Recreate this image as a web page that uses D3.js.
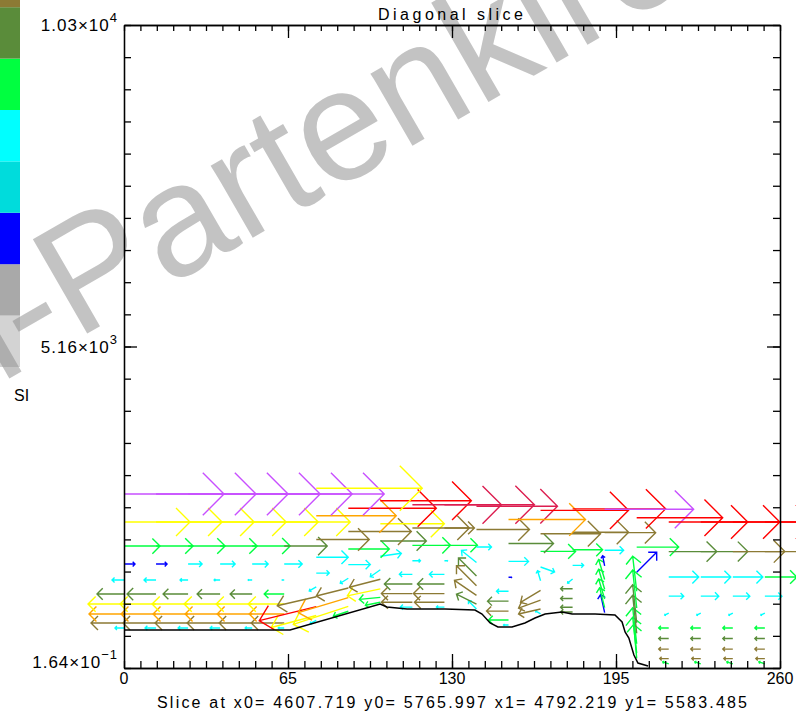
<!DOCTYPE html>
<html>
<head>
<meta charset="utf-8">
<script src="https://cdn.jsdelivr.net/npm/d3@7/dist/d3.min.js"></script>
<style>
body { margin: 0; background: #fff; }
svg { display: block; font-family: "Liberation Sans", Arial, sans-serif; }
</style>
</head>
<body>
<svg width="796" height="715"></svg>
<script>
var svg = d3.select("svg");

// sample points along the slice (distance)
var columnX = [0, 12.7, 25.4, 38.1, 50.8, 63.5, 76.2, 88.9, 101.6, 114.3, 127,
  139.7, 152.4, 165.1, 177.8, 190.5, 203.2, 215.9, 228.6, 241.3, 254];

// terrain under the slice
var terrainX = [0, 28.9, 65.8, 101.5, 104.2, 112.2, 127.2, 139.1, 141.9, 145.1, 148.2, 153.8,
  158.9, 162.9, 166.9, 173.6, 177.6, 186.7, 194.6, 197.4, 198.6, 200.1, 202.1, 203.7, 207.7];
var terrainZ = [609, 609, 609, 1025, 977, 945, 945, 929, 865, 721, 657, 657,
  721, 801, 865, 897, 865, 865, 849, 737, 577, 481, 208, 80, 32];

// terrain following model levels
var sigma = [0.0033, 0.0116, 0.0264, 0.0429, 0.0594, 0.0826, 0.109, 0.1388, 0.1785, 0.2247];
var modelTop = 10300;

// along-slice wind (u) and vertical wind (w), one row per level, bottom first
var windU = [
  [-0.9,-1.1,-1.0,-1.0,-0.7,-0.6,-0.6,-1.5,-1.5,-1.2,-0.8,-0.8,-0.5,-0.5,-1.2,-0.4,-0.3,-0.6,-0.6,-0.6,-0.6],
  [-3.3,-3.3,-3.3,-3.3,-3.3,-3.3,-4.5,-5.5,-2.1,-3.1,-3.0,-2.0,-2.0,-2.2,-1.2,-0.5,-0.4,-0.9,-0.9,-0.9,-0.9],
  [-3.5,-3.5,-3.5,-3.5,-3.5,-3.5,-5.7,-5.0,-3.3,-3.1,-3.1,-2.2,-2.2,-2.2,-1.2,-0.6,-0.4,-1.0,-1.0,-1.0,-1.0],
  [-3.6,-3.6,-3.6,-3.6,-3.6,-3.6,-3.9,-3.2,-3.1,-2.8,-2.7,-2.0,-2.1,-2.0,-1.2,-0.6,-0.4,-1.0,-1.0,-1.0,-1.0],
  [-2.7,-2.9,-2.5,-2.3,-2.2,-2.0,-0.7,-0.8,-1.0,-1.3,-1.5,-1.8,-1.2,-0.3,-0.5,-0.6,-0.4,-1.0,-1.0,-1.0,-1.0],
  [-1.2,-1.2,-0.8,-0.6,-0.4,-0.2, 1.3, 2.2, 2.1, 0.8, 0.3,-1.5, 0.3, 1.4, 1.1,-0.2,-0.4,-0.4,-0.4,-0.4,-0.4],
  [ 1.1, 1.1, 1.4, 1.5, 1.6, 1.8, 3.2, 4.1, 4.6, 3.8, 3.3, 1.5, 2.0, 3.5, 3.0, 1.9,-0.4, 1.5, 1.8, 1.7, 1.7],
  [ 3.6, 3.7, 3.7, 3.7, 3.8, 4.3, 5.3, 6.3, 6.4, 5.7, 3.0, 5.3, 4.5, 6.0, 5.6, 5.1, 2.0, 3.0, 3.0, 3.0, 3.2],
  [ 6.6, 6.6, 6.6, 6.6, 6.6, 6.6, 8.0, 8.8, 9.1, 8.9, 9.0, 8.1, 7.7, 8.8, 9.3, 8.9, 4.2, 4.8, 4.7, 5.2, 5.0],
  [10.0,10.0,10.0,10.0,10.0,10.0,10.6,null,null,null,null,null,null,null,null,null, 8.6, 7.9, 7.9, 8.0, 8.0]
];
var windW = [
  [0,0,0,0,0,0,-0.3,-0.5,-0.3,0,0,0.8,0,0.3,0,1.8,3.4,0.2,0.2,0.2,0.2],
  [0,0,0,0,0,0,-1.2,-1.8,-0.2,0,0,1.0,0,-0.5,0,2.0,3.6,0,0,0,0],
  [0,0,0,0,0,0,-1.4,-1.5,-0.7,0,0,1.5,0,-0.8,0,2.0,3.6,0,0,0,0],
  [0,0,0,0,0,0,-0.9,-0.8,-0.8,0,0,2.0,0,-1.2,0,2.0,3.8,0,0,0,0],
  [0,0,0,0,0,0,-0.4,-0.5,-0.7,0,0,1.8,0,1.0,-0.4,2.0,3.8,0,0,0,0],
  [0,0,0,0,0,0,0,0,0.3,0,0,1.2,0,-0.5,0,1.0,3.8,-0.2,-0.2,-0.2,-0.2],
  [0,0,0,0,0,0,0,0,0,0,0,0,0,0,0,0,3.5,0,0,0,0],
  [0,0,0,0,0,0,0,0,0,0,0,0,0,0,0,0,2.0,0,0,0,0],
  [0,0,0,0,0,0,0,0,0,0,0,0,0,0,0,0,0,0,0,0,0],
  [0,0,0,0,0,0,0,0,0,0,0,0,0,0,0,0,0,0,0,0,0]
];
// colour class of each vector (index into the colour table)
var windClass = [
  [4,4,4,4,4,4,4,5,5,4,4,4,4,4,6,2,5,5,5,5,5],
  [7,7,7,7,7,7,8,8,5,7,7,6,5,7,6,5,5,7,7,7,7],
  [9,9,9,9,9,9,10,9,8,7,7,7,7,7,6,5,5,7,7,7,7],
  [8,8,8,8,8,8,7,7,7,6,6,7,6,7,6,5,6,6,6,6,6],
  [6,6,6,6,6,5,4,4,4,4,4,6,4,4,4,5,6,5,5,5,5],
  [4,4,4,4,4,4,4,4,4,4,4,4,2,4,4,2,5,4,4,4,4],
  [2,2,4,4,4,4,4,5,6,5,5,4,4,5,5,4,5,4,4,4,4],
  [5,5,5,5,5,6,7,7,8,7,7,7,6,7,7,7,2,4,4,4,5],
  [8,8,8,8,8,8,9,10,10,11,11,11,9,10,10,12,5,6,6,7,7],
  [12,12,12,12,12,12,8,0,0,0,0,0,0,0,0,0,10,10,10,10,10]
];

var colorTable = ["#d3d3d3", "#a9a9a9", "#0000ff", "#00dcdc", "#00ffff", "#00ff40",
  "#5a8c3a", "#8c7a34", "#ffff00", "#ffa500", "#ff0000", "#dc1e50", "#c850ff"];

// axis labels
var xLabels = [0, 65, 130, 195, 260];
var yLabelValues = [10300, 5150, 0.164];
var yLabelText = ["1.03×10", "5.16×10", "1.64×10"];
var yLabelPow = ["4", "3", "−1"];

var x = d3.scaleLinear().domain([0, 260]).range([124, 780]);
var y = d3.scaleLinear().domain([0.164, 10300]).range([668, 25]);
var ground = d3.scaleLinear().domain(terrainX).range(terrainZ).clamp(true);
var vecScale = 10; // pixels per m/s

// colour bar (only its lower part is on the page)
var barY = d3.scaleLinear().domain([0, colorTable.length]).range([367, 367 - 51.4 * colorTable.length]);
svg.append("g").selectAll("rect")
  .data(colorTable)
  .enter()
  .append("rect")
  .attr("x", 0)
  .attr("width", 20)
  .attr("y", function(d, i) { return barY(i + 1); })
  .attr("height", function(d, i) { return barY(i) - barY(i + 1); })
  .attr("fill", function(d) { return d; });

svg.append("text")
  .attr("x", 14).attr("y", 401)
  .attr("font-size", 16)
  .text("SI");

// watermark
var wm = svg.append("g")
  .attr("transform", "translate(76,340) rotate(-30)")
  .attr("fill", "#8c8c8c")
  .attr("fill-opacity", 0.52)
  .attr("font-size", 158);
wm.append("text").attr("text-anchor", "end").text("Garmisch-");
wm.append("text").attr("text-anchor", "start").text("Partenkirchen");

// vectors
var arrows = [];
windU.forEach(function(row, k) {
  row.forEach(function(u, i) {
    if (u === null) return;
    var g = ground(columnX[i]);
    var z = g + sigma[k] * (modelTop - g);
    arrows.push({x: columnX[i], z: z, u: u, w: windW[k][i], c: colorTable[windClass[k][i]]});
  });
});

function arrowPath(d) {
  var x0 = x(d.x), y0 = y(d.z);
  var dx = d.u * vecScale, dy = -d.w * vecScale;
  var len = Math.sqrt(dx * dx + dy * dy);
  var x1 = x0 + dx, y1 = y0 + dy;
  var a = Math.atan2(dy, dx), h = 0.3 * len;
  var p = d3.path();
  p.moveTo(x0, y0);
  p.lineTo(x1, y1);
  p.moveTo(x1 - h * Math.cos(a - Math.PI / 4), y1 - h * Math.sin(a - Math.PI / 4));
  p.lineTo(x1, y1);
  p.lineTo(x1 - h * Math.cos(a + Math.PI / 4), y1 - h * Math.sin(a + Math.PI / 4));
  return p.toString();
}

svg.append("g")
  .attr("class", "vectors")
  .selectAll("path")
  .data(arrows)
  .enter()
  .append("path")
  .attr("d", arrowPath)
  .attr("fill", "none")
  .attr("stroke", function(d) { return d.c; })
  .attr("stroke-width", 1.4);

// terrain line
svg.append("path")
  .datum(d3.zip(terrainX, terrainZ))
  .attr("d", d3.line().x(function(d) { return x(d[0]); }).y(function(d) { return y(d[1]); }))
  .attr("fill", "none")
  .attr("stroke", "#000")
  .attr("stroke-width", 1.5);

// axes
var xMinor = d3.range(0, 260.01, 6.5);
var xMajor = [65, 130, 195];
var yMinor = d3.range(21).map(function(i) { return 0.164 + i * (10300 - 0.164) / 20; });
var yMajor = [5150];

function addAxis(axis, tr) {
  var g = svg.append("g").attr("transform", tr).call(axis);
  g.selectAll("text").remove();
  g.selectAll("path, line").attr("stroke", "#000").attr("stroke-width", 1.3);
  return g;
}
addAxis(d3.axisTop(x).tickValues(xMinor).tickSize(7).tickSizeOuter(0), "translate(0,668)");
addAxis(d3.axisTop(x).tickValues(xMajor).tickSize(14).tickSizeOuter(0), "translate(0,668)");
addAxis(d3.axisBottom(x).tickValues(xMinor).tickSize(6).tickSizeOuter(0), "translate(0,25)");
addAxis(d3.axisBottom(x).tickValues(xMajor).tickSize(13).tickSizeOuter(0), "translate(0,25)");
addAxis(d3.axisRight(y).tickValues(yMinor).tickSize(7).tickSizeOuter(0), "translate(124,0)");
addAxis(d3.axisRight(y).tickValues(yMajor).tickSize(13).tickSizeOuter(0), "translate(124,0)");
addAxis(d3.axisLeft(y).tickValues(yMinor).tickSize(7).tickSizeOuter(0), "translate(780,0)");
addAxis(d3.axisLeft(y).tickValues(yMajor).tickSize(13).tickSizeOuter(0), "translate(780,0)");

svg.append("g").selectAll("text")
  .data(xLabels)
  .enter()
  .append("text")
  .attr("x", function(d) { return x(d); })
  .attr("y", 684)
  .attr("text-anchor", "middle")
  .attr("font-size", 16)
  .text(function(d) { return d; });

var yl = svg.append("g").selectAll("text")
  .data(yLabelValues)
  .enter()
  .append("text")
  .attr("x", 118)
  .attr("y", function(d) { return Math.min(y(d) + 6, 668); })
  .attr("text-anchor", "end")
  .attr("font-size", 17)
  .attr("letter-spacing", 1);
yl.append("tspan").text(function(d, i) { return yLabelText[i]; });
yl.append("tspan").attr("dy", -9).attr("font-size", 13).text(function(d, i) { return yLabelPow[i]; });

svg.append("text")
  .attr("x", 378).attr("y", 20)
  .attr("font-size", 16)
  .attr("textLength", 145)
  .text("Diagonal slice");

svg.append("text")
  .attr("x", 157).attr("y", 708)
  .attr("font-size", 16)
  .attr("textLength", 590)
  .text("Slice at x0= 4607.719 y0= 5765.997 x1= 4792.219 y1= 5583.485");
</script>
</body>
</html>
